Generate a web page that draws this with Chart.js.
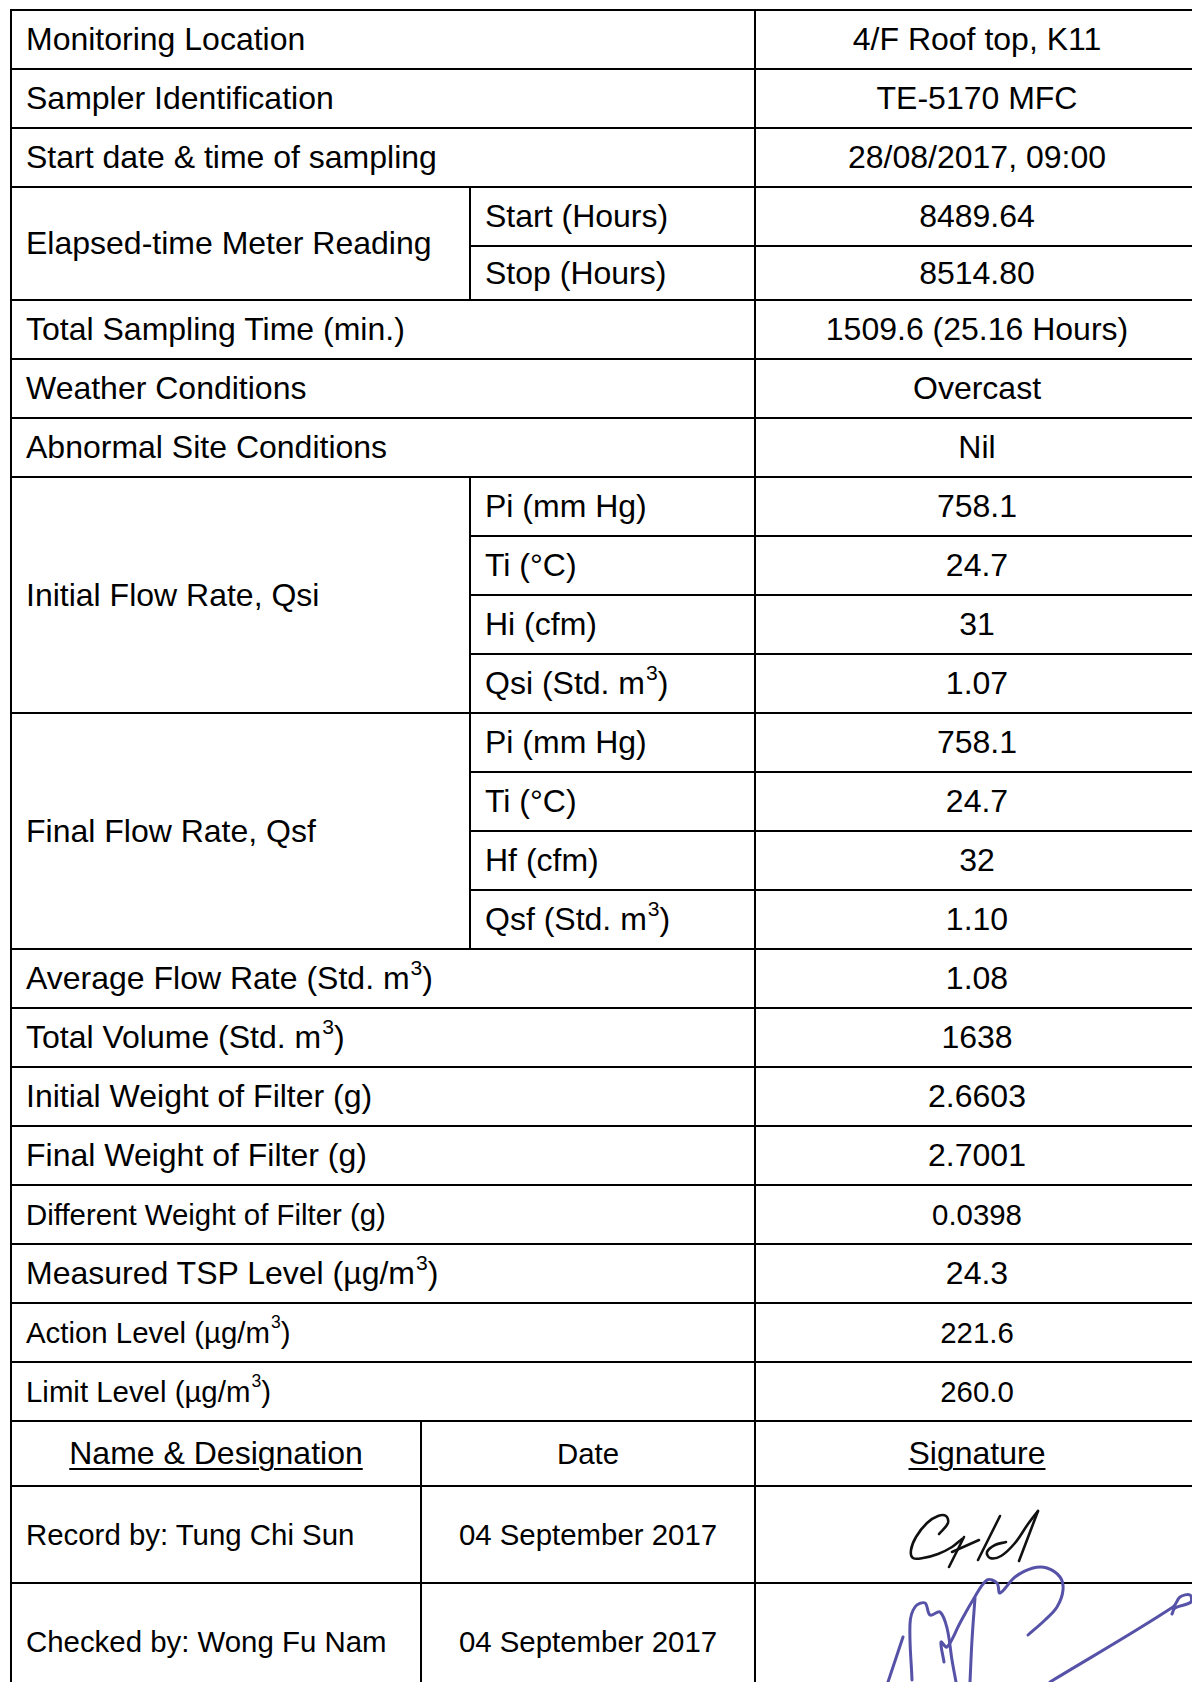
<!DOCTYPE html>
<html>
<head>
<meta charset="utf-8">
<script src="https://cdn.jsdelivr.net/npm/chart.js@4.4.1/dist/chart.umd.min.js"></script>
<style>
html,body{margin:0;padding:0;background:#fff;}
body{width:1192px;height:1682px;overflow:hidden;position:relative;font-family:"Liberation Sans",Arial,Helvetica,sans-serif;color:#000;}
.c{position:absolute;box-sizing:border-box;border:2px solid #000;display:flex;align-items:center;padding:0 0 0 14px;white-space:nowrap;font-size:32px;background:transparent;}
.c.ctr{justify-content:center;padding:0;}
.c.sm{font-size:29.4px;}
sup{font-size:0.66em;line-height:0;vertical-align:baseline;position:relative;top:-0.5em;margin-left:1px;}
.sm sup{font-size:0.6em;top:-0.58em;}
.u{text-decoration:underline;text-decoration-thickness:2px;text-underline-offset:4px;}
#sigWrap{position:absolute;left:755px;top:1486px;width:437px;height:196px;z-index:5;}
</style>
</head>
<body>
<div id="tbl"></div>
<div id="sigWrap"><canvas id="sig" width="437" height="196"></canvas></div>
<script>
// ---------- DATA ----------
const simpleLabels = [
  "Monitoring Location",
  "Sampler Identification",
  "Start date & time of sampling",
  "Total Sampling Time (min.)",
  "Weather Conditions",
  "Abnormal Site Conditions",
  "Average Flow Rate (Std. m^3)",
  "Total Volume (Std. m^3)",
  "Initial Weight of Filter (g)",
  "Final Weight of Filter (g)",
  "Different Weight of Filter (g)",
  "Measured TSP Level (µg/m^3)",
  "Action Level (µg/m^3)",
  "Limit Level (µg/m^3)"
];
const groupLabels = ["Elapsed-time Meter Reading", "Initial Flow Rate, Qsi", "Final Flow Rate, Qsf"];
const subLabels = [
  ["Start (Hours)", "Stop (Hours)"],
  ["Pi (mm Hg)", "Ti (°C)", "Hi (cfm)", "Qsi (Std. m^3)"],
  ["Pi (mm Hg)", "Ti (°C)", "Hf (cfm)", "Qsf (Std. m^3)"]
];
// row order: s = simple label index, g = group index
const rowOrder = ["s0","s1","s2","g0","s3","s4","s5","g1","g2","s6","s7","s8","s9","s10","s11","s12","s13"];
const values = [
  "4/F Roof top, K11", "TE-5170 MFC", "28/08/2017, 09:00",
  "8489.64", "8514.80",
  "1509.6 (25.16 Hours)", "Overcast", "Nil",
  "758.1", "24.7", "31", "1.07",
  "758.1", "24.7", "32", "1.10",
  "1.08", "1638", "2.6603", "2.7001", "0.0398", "24.3", "221.6", "260.0"
];
const signHeaders = ["Name & Designation", "Date", "Signature"];
const signNames = ["Record by: Tung Chi Sun", "Checked by: Wong Fu Nam"];
const signDates = ["04 September 2017", "04 September 2017"];

// signature ink strokes (pen traces)
const inkRecord = [
  [[939,1534],[948,1523],[946,1516],[938,1516],[927,1523],[916,1537],[911,1550],[913,1558],[923,1558],[938,1554],[952,1547],[962,1539]],
  [[964,1537],[949,1567]],
  [[952,1552],[979,1540]],
  [[1000,1516],[978,1560]],
  [[1006,1542],[995,1545],[987,1552],[990,1558],[1001,1556],[1015,1543],[1028,1524],[1038,1511]],
  [[1038,1511],[1019,1561]]
];
const inkChecked = [
  [[888,1682],[903,1637]],
  [[912,1680],[910,1624],[915,1607],[925,1603],[930,1615],[940,1612],[947,1628],[952,1660],[956,1682]],
  [[944,1662],[941,1642],[947,1647],[960,1623],[973,1600],[987,1580],[997,1583],[1000,1593],[1015,1577],[1033,1568],[1047,1568],[1060,1577],[1063,1590],[1057,1607],[1045,1620],[1028,1635]],
  [[975,1598],[972,1640],[970,1682]],
  [[1050,1682],[1173,1607],[1180,1597],[1190,1595],[1191,1602],[1175,1608],[1172,1614]]
];

// ---------- LAYOUT ----------
const X = {left:11, name:421, sub:470, val:755, right:1199};
const yLines = [10,69,128,187,246,300,359,418,477,536,595,654,713,772,831,890,949,1008,1067,1126,1185,1244,1303,1362,1421,1486,1583,1700];
const smallLabels = new Set(["Different Weight of Filter (g)","Action Level (µg/m^3)","Limit Level (µg/m^3)"]);

function fmt(t){
  return t.replace(/&/g,"&amp;").replace(/\^3/g,"<sup>3</sup>");
}
const tbl = document.getElementById("tbl");
function cell(x0,y0,x1,y1,text,cls){
  const d = document.createElement("div");
  d.className = "c " + (cls||"");
  d.style.left = (x0-1)+"px";
  d.style.top = (y0-1)+"px";
  d.style.width = (x1-x0+2)+"px";
  d.style.height = (y1-y0+2)+"px";
  d.innerHTML = text;
  tbl.appendChild(d);
  return d;
}

let r = 0;
for (const item of rowOrder){
  const idx = +item.slice(1);
  if (item[0] === "s"){
    const lab = simpleLabels[idx];
    const sm = smallLabels.has(lab) ? "sm" : "";
    cell(X.left, yLines[r], X.val, yLines[r+1], fmt(lab), sm);
    cell(X.val, yLines[r], X.right, yLines[r+1], fmt(values[r]), "ctr " + sm);
    r++;
  } else {
    const subs = subLabels[idx];
    cell(X.left, yLines[r], X.sub, yLines[r+subs.length], fmt(groupLabels[idx]), "");
    subs.forEach((s,k)=>{
      cell(X.sub, yLines[r+k], X.val, yLines[r+k+1], fmt(s), "");
      cell(X.val, yLines[r+k], X.right, yLines[r+k+1], fmt(values[r+k]), "ctr");
    });
    r += subs.length;
  }
}
// sign-off section
cell(X.left, yLines[r], X.name, yLines[r+1], '<span class="u">'+fmt(signHeaders[0])+'</span>', "ctr");
cell(X.name, yLines[r], X.val, yLines[r+1], fmt(signHeaders[1]), "ctr sm");
cell(X.val, yLines[r], X.right, yLines[r+1], '<span class="u">'+fmt(signHeaders[2])+'</span>', "ctr");
r++;
signNames.forEach((n,k)=>{
  cell(X.left, yLines[r], X.name, yLines[r+1], fmt(n), "sm");
  cell(X.name, yLines[r], X.val, yLines[r+1], fmt(signDates[k]), "ctr sm");
  cell(X.val, yLines[r], X.right, yLines[r+1], "", "");
  r++;
});

// ---------- SIGNATURES via Chart.js ----------
function toDs(strokes, color, width){
  return strokes.map(s=>({
    data: s.map(p=>({x:p[0], y:p[1]})),
    showLine: true, borderColor: color, backgroundColor: color,
    borderWidth: width, pointRadius: 0, tension: 0.35, fill: false, clip: false,
    borderCapStyle: "round", borderJoinStyle: "round"
  }));
}
new Chart(document.getElementById("sig").getContext("2d"), {
  type: "scatter",
  data: { datasets: toDs(inkRecord, "#111111", 2.6).concat(toDs(inkChecked, "#5652a8", 3)) },
  options: {
    responsive: false, animation: false, events: [],
    layout: { padding: 0 },
    plugins: { legend: { display: false }, tooltip: { enabled: false } },
    scales: {
      x: { type: "linear", display: false, min: 755, max: 1192 },
      y: { type: "linear", display: false, min: 1486, max: 1682, reverse: true }
    }
  }
});
</script>
</body>
</html>
